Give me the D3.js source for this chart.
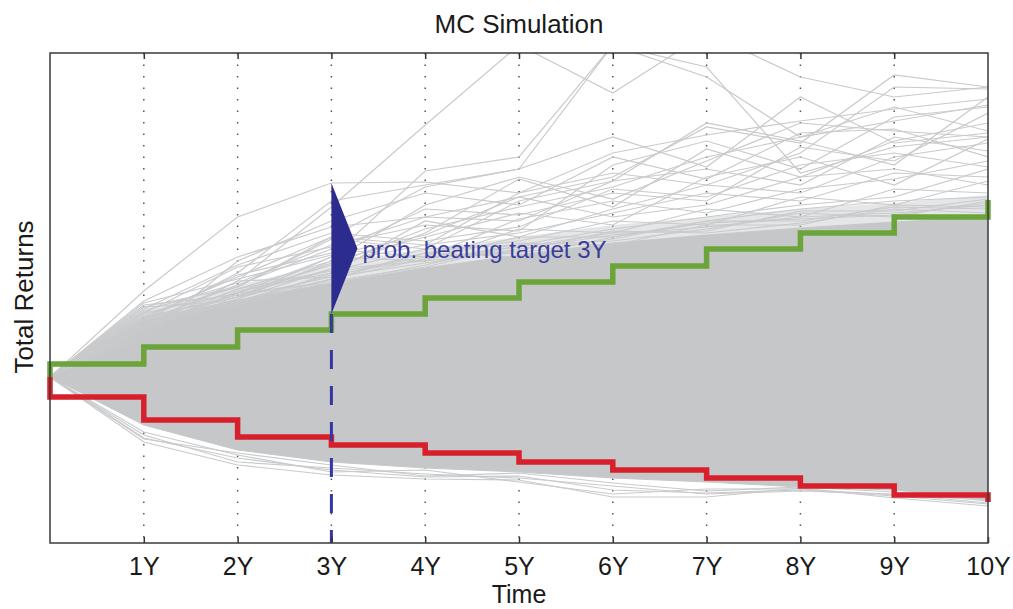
<!doctype html>
<html>

<head>
    <meta charset="utf-8">
    <title>MC Simulation</title>
    <style>
        body { margin: 0; background: #fff; }
        text { font-family: "Liberation Sans", Arial, sans-serif; fill: #1a1a1a; }
    </style>
</head>

<body>
    <script src="https://d3js.org/d3.v7.min.js"></script>
    <script>
        // years on the x axis
        var years = [0, 1, 2, 3, 4, 5, 6, 7, 8, 9, 10];
        var tickLabels = ["", "1Y", "2Y", "3Y", "4Y", "5Y", "6Y", "7Y", "8Y", "9Y", "10Y"];

        // target (green) and floor (red) stair lines, total return in %
        var targetSteps = [0, 6.5, 15, 23.5, 31.5, 39.5, 47.5, 55.5, 64, 72, 80, 88.5];
        var floorSteps = [0, -10, -21.5, -30, -34, -38, -42.5, -46.5, -50.5, -54.5, -59, -62.5];

        // dense part of the simulated paths (upper / lower edge)
        var denseUpper = [0, 28.5, 38.5, 47, 54.5, 61, 67, 71, 74.5, 77.5, 80];
        var denseLower = [0, -24, -36.5, -42.5, -45.5, -47.5, -50.5, -52.5, -55, -56.5, -61.5];
        // thinner cloud just above the dense part
        var cloudUpper = [0, 34, 46, 57, 64, 70, 76, 80, 84, 87, 91];

        // single simulated paths that stick out of the dense part
        var upperPaths = [
            [0, 43, 80, 97, 97.5, 92, 112, 121, 128, 134, 139],
            [0, 24, 48, 85, 126, 166, 142, 172, 150, 140, 145],
            [0, 30, 40, 60, 103, 110, 166, 150, 120, 128, 136],
            [0, 28, 52, 88, 96, 104, 166, 155, 102, 115, 120],
            [0, 35, 45, 70, 95, 104, 120, 105, 140, 117, 122],
            [0, 32, 55, 65, 80, 90, 100, 125, 117, 151, 145],
            [0, 26, 42, 56, 74, 85, 95, 110, 120, 135, 123],
            [0, 38, 60, 75, 80, 78, 98, 127, 118, 106, 140],
            [0, 30, 50, 70, 66, 92, 102, 96, 112, 145, 144],
            [0, 27, 44, 58, 86, 100, 89, 108, 127, 123, 120],
            [0, 33, 47, 66, 76, 73, 106, 118, 104, 130, 135],
            [0, 20, 58, 78, 92, 86, 110, 99, 122, 124, 110],
            [0, 36, 41, 54, 72, 99, 85, 114, 100, 118, 127],
            [0, 29, 51, 62, 84, 81, 92, 88, 115, 108, 132],
            [0, 31, 45, 69, 64, 88, 98, 104, 96, 120, 113],
            [0, 25, 39, 58, 70, 82, 76, 100, 110, 96, 119],
            [0, 34, 56, 72, 68, 75, 94, 90, 106, 112, 105],
            [0, 22, 43, 52, 78, 70, 84, 96, 92, 110, 117],
            [0, 37, 49, 61, 71, 90, 80, 86, 100, 104, 96],
            [0, 28, 46, 64, 60, 79, 88, 82, 94, 99, 108],
            [0, 30, 40, 57, 66, 72, 82, 92, 88, 102, 100],
            [0, 26, 48, 50, 62, 68, 78, 76, 90, 86, 98],
            [0, 32, 42, 60, 58, 74, 72, 84, 80, 94, 92],
            [0, 24, 44, 53, 64, 66, 74, 80, 86, 90, 104],
            [0, 35, 38, 49, 59, 70, 70, 78, 84, 88, 90],
            [0, 28, 40, 50, 57, 64, 71, 75, 80, 82, 86],
            [0, 26, 37, 52, 60, 62, 69, 78, 78, 85, 84],
            [0, 29, 41, 48, 55, 66, 68, 74, 82, 80, 88],
            [0, 27, 39, 54, 58, 63, 73, 72, 77, 84, 82],
            [0, 30, 36, 49, 62, 60, 70, 77, 79, 81, 87],
            [0, 25, 42, 47, 56, 67, 66, 76, 76, 86, 85],
            [0, 28, 38, 51, 59, 65, 72, 73, 83, 83, 89]
        ];
        var lowerPaths = [
            [0, -32.5, -44, -49, -51, -51.5, -60, -60, -55.5, -60.5, -64.5],
            [0, -30.5, -40.5, -46.5, -50, -49.5, -56.5, -58, -56.5, -59.5, -63.5],
            [0, -29, -42.5, -45.5, -48.5, -50.5, -54.5, -58.5, -57, -58.5, -63],
            [0, -27.5, -39, -47.5, -46.5, -52.5, -58.5, -56, -56, -59, -61.5],
            [0, -31, -38, -44, -49.5, -48, -53, -57, -55, -57.5, -62]
        ];

        var annotYear = 3;
        var annotText = "prob. beating target 3Y";

        var w = 1013, h = 609;
        var margin = { top: 53, right: 25, bottom: 66, left: 50 };

        var x = d3.scaleLinear().domain([0, 10]).range([margin.left, w - margin.right]);
        var y = d3.scaleLinear().domain([-83, 162]).range([h - margin.bottom, margin.top]);

        var svg = d3.select("body").append("svg")
            .attr("width", w)
            .attr("height", h);

        svg.append("clipPath").attr("id", "plotclip")
            .append("rect")
            .attr("x", x(0)).attr("y", y(162))
            .attr("width", x(10) - x(0)).attr("height", y(-83) - y(162));

        // dotted grid
        svg.append("g").selectAll("line")
            .data(years.slice(1, 10))
            .enter().append("line")
            .attr("x1", function (d) { return x(d); })
            .attr("x2", function (d) { return x(d); })
            .attr("y1", y(162)).attr("y2", y(-83))
            .style("stroke", "#555")
            .style("stroke-width", 1.5)
            .style("stroke-dasharray", "1.5,10");

        var plot = svg.append("g").attr("clip-path", "url(#plotclip)");

        var line = d3.line()
            .x(function (d, i) { return x(years[i]); })
            .y(function (d) { return y(d); });

        // thin cloud, then dense band
        var cloud = d3.area()
            .x(function (d, i) { return x(years[i]); })
            .y0(function (d, i) { return y(denseUpper[i]); })
            .y1(function (d) { return y(d); });

        plot.append("path")
            .attr("d", cloud(cloudUpper))
            .style("fill", "#c6c7c9")
            .style("fill-opacity", 0.45);

        var band = d3.area()
            .x(function (d, i) { return x(years[i]); })
            .y0(function (d, i) { return y(denseLower[i]); })
            .y1(function (d) { return y(d); });

        plot.append("path")
            .attr("d", band(denseUpper))
            .style("fill", "#c6c7c9")
            .style("stroke", "#c6c7c9")
            .style("stroke-width", 1);

        plot.selectAll(".sim")
            .data(upperPaths.concat(lowerPaths))
            .enter().append("path")
            .attr("class", "sim")
            .attr("d", line)
            .style("fill", "none")
            .style("stroke", "#c9cacc")
            .style("stroke-width", 1.2);

        // stairs
        function stairs(s) {
            var pts = [[0, s[0]]];
            for (var i = 0; i < 10; i++) {
                pts.push([i, s[i + 1]]);
                pts.push([i + 1, s[i + 1]]);
            }
            pts.push([10, s[11]]);
            return d3.line()
                .x(function (d) { return x(d[0]); })
                .y(function (d) { return y(d[1]); })(pts);
        }

        svg.append("path")
            .attr("d", stairs(floorSteps))
            .style("fill", "none")
            .style("stroke", "#d7202b")
            .style("stroke-width", 5.5);

        svg.append("path")
            .attr("d", stairs(targetSteps))
            .style("fill", "none")
            .style("stroke", "#6ba43a")
            .style("stroke-width", 5.5);

        // 3Y annotation
        var annotTop = d3.max(upperPaths, function (p) { return p[annotYear]; });
        var annotBottom = targetSteps[annotYear + 1];
        var ax = x(annotYear);
        var yTop = y(annotTop), yBot = y(annotBottom), yMid = (yTop + yBot) / 2;

        svg.append("line")
            .attr("x1", ax).attr("x2", ax)
            .attr("y1", yBot).attr("y2", y(-83))
            .style("stroke", "#3336a3")
            .style("stroke-width", 3)
            .style("stroke-dasharray", "19,17");

        svg.append("path")
            .attr("d", "M" + ax + "," + yTop + "L" + (ax + 26) + "," + yMid + "L" + ax + "," + yBot + "Z")
            .style("fill", "#2b2c8e");

        svg.append("text")
            .attr("x", ax + 31)
            .attr("y", yMid + 9)
            .style("font-size", "24px")
            .style("fill", "#3b3d9c")
            .text(annotText);

        // axes
        svg.append("g")
            .attr("transform", "translate(0," + y(-83) + ")")
            .call(d3.axisBottom(x).tickValues(years.slice(1))
                .tickFormat(function (d) { return tickLabels[d]; })
                .tickSizeInner(-6).tickSizeOuter(0).tickPadding(14))
            .call(function (g) {
                g.select(".domain").remove();
                g.selectAll("line").style("stroke", "#333").style("stroke-width", 1.5);
                g.selectAll("text").style("font-size", "25px").style("font-family", "Liberation Sans, Arial").style("fill", "#1a1a1a");
            });

        svg.append("g")
            .attr("transform", "translate(0," + y(162) + ")")
            .call(d3.axisTop(x).tickValues(years.slice(1, 10))
                .tickFormat("").tickSizeInner(-6).tickSizeOuter(0))
            .call(function (g) {
                g.select(".domain").remove();
                g.selectAll("line").style("stroke", "#333").style("stroke-width", 1.5);
            });

        svg.append("rect")
            .attr("x", x(0)).attr("y", y(162))
            .attr("width", x(10) - x(0)).attr("height", y(-83) - y(162))
            .style("fill", "none")
            .style("stroke", "#3a3a3a")
            .style("stroke-width", 1.5);

        // titles
        svg.append("text")
            .attr("x", (x(0) + x(10)) / 2)
            .attr("y", 33)
            .attr("text-anchor", "middle")
            .style("font-size", "26px")
            .text("MC Simulation");

        svg.append("text")
            .attr("x", (x(0) + x(10)) / 2)
            .attr("y", 603)
            .attr("text-anchor", "middle")
            .style("font-size", "25px")
            .text("Time");

        svg.append("text")
            .attr("transform", "translate(33," + 297 + ") rotate(-90)")
            .attr("text-anchor", "middle")
            .style("font-size", "26px")
            .text("Total Returns");
    </script>
</body>

</html>
